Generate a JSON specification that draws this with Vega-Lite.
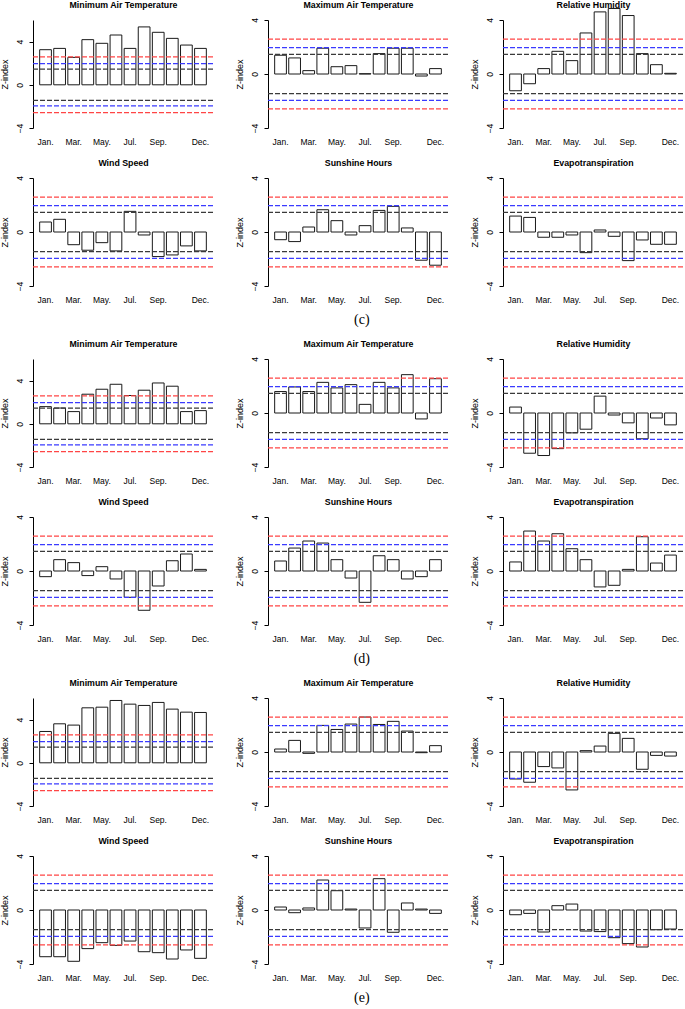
{
"$schema": "https://vega.github.io/schema/vega-lite/v6.json",
"padding": 0,
"background": "white",
"datasets": {
"thr": [{"t":1.45,"k":"l1"},{"t":-1.45,"k":"l1"},{"t":1.96,"k":"l2"},{"t":-1.96,"k":"l2"},{"t":2.58,"k":"l3"},{"t":-2.58,"k":"l3"}],
"z": [
{"g":"c","v":"MinT","m":"Jan.","z":3.25},{"g":"c","v":"MinT","m":"Feb.","z":3.37},{"g":"c","v":"MinT","m":"Mar.","z":2.54},{"g":"c","v":"MinT","m":"Apr.","z":4.18},{"g":"c","v":"MinT","m":"May.","z":3.84},{"g":"c","v":"MinT","m":"Jun.","z":4.61},{"g":"c","v":"MinT","m":"Jul.","z":3.37},{"g":"c","v":"MinT","m":"Aug.","z":5.36},{"g":"c","v":"MinT","m":"Sep.","z":4.86},{"g":"c","v":"MinT","m":"Oct.","z":4.30},{"g":"c","v":"MinT","m":"Nov.","z":3.68},{"g":"c","v":"MinT","m":"Dec.","z":3.37},
{"g":"c","v":"MaxT","m":"Jan.","z":1.39},{"g":"c","v":"MaxT","m":"Feb.","z":1.19},{"g":"c","v":"MaxT","m":"Mar.","z":0.25},{"g":"c","v":"MaxT","m":"Apr.","z":1.91},{"g":"c","v":"MaxT","m":"May.","z":0.54},{"g":"c","v":"MaxT","m":"Jun.","z":0.62},{"g":"c","v":"MaxT","m":"Jul.","z":0.02},{"g":"c","v":"MaxT","m":"Aug.","z":1.51},{"g":"c","v":"MaxT","m":"Sep.","z":1.91},{"g":"c","v":"MaxT","m":"Oct.","z":1.91},{"g":"c","v":"MaxT","m":"Nov.","z":-0.15},{"g":"c","v":"MaxT","m":"Dec.","z":0.40},
{"g":"c","v":"RH","m":"Jan.","z":-1.24},{"g":"c","v":"RH","m":"Feb.","z":-0.72},{"g":"c","v":"RH","m":"Mar.","z":0.40},{"g":"c","v":"RH","m":"Apr.","z":1.68},{"g":"c","v":"RH","m":"May.","z":0.99},{"g":"c","v":"RH","m":"Jun.","z":3.04},{"g":"c","v":"RH","m":"Jul.","z":4.60},{"g":"c","v":"RH","m":"Aug.","z":4.85},{"g":"c","v":"RH","m":"Sep.","z":4.33},{"g":"c","v":"RH","m":"Oct.","z":1.51},{"g":"c","v":"RH","m":"Nov.","z":0.69},{"g":"c","v":"RH","m":"Dec.","z":0.05},
{"g":"c","v":"WS","m":"Jan.","z":0.74},{"g":"c","v":"WS","m":"Feb.","z":0.94},{"g":"c","v":"WS","m":"Mar.","z":-0.94},{"g":"c","v":"WS","m":"Apr.","z":-1.35},{"g":"c","v":"WS","m":"May.","z":-0.79},{"g":"c","v":"WS","m":"Jun.","z":-1.40},{"g":"c","v":"WS","m":"Jul.","z":1.53},{"g":"c","v":"WS","m":"Aug.","z":-0.22},{"g":"c","v":"WS","m":"Sep.","z":-1.82},{"g":"c","v":"WS","m":"Oct.","z":-1.70},{"g":"c","v":"WS","m":"Nov.","z":-1.03},{"g":"c","v":"WS","m":"Dec.","z":-1.40},
{"g":"c","v":"SH","m":"Jan.","z":-0.57},{"g":"c","v":"SH","m":"Feb.","z":-0.71},{"g":"c","v":"SH","m":"Mar.","z":0.37},{"g":"c","v":"SH","m":"Apr.","z":1.65},{"g":"c","v":"SH","m":"May.","z":0.84},{"g":"c","v":"SH","m":"Jun.","z":-0.22},{"g":"c","v":"SH","m":"Jul.","z":0.47},{"g":"c","v":"SH","m":"Aug.","z":1.60},{"g":"c","v":"SH","m":"Sep.","z":1.90},{"g":"c","v":"SH","m":"Oct.","z":0.30},{"g":"c","v":"SH","m":"Nov.","z":-2.09},{"g":"c","v":"SH","m":"Dec.","z":-2.46},
{"g":"c","v":"ET","m":"Jan.","z":1.18},{"g":"c","v":"ET","m":"Feb.","z":1.08},{"g":"c","v":"ET","m":"Mar.","z":-0.39},{"g":"c","v":"ET","m":"Apr.","z":-0.39},{"g":"c","v":"ET","m":"May.","z":-0.22},{"g":"c","v":"ET","m":"Jun.","z":-1.53},{"g":"c","v":"ET","m":"Jul.","z":0.15},{"g":"c","v":"ET","m":"Aug.","z":-0.32},{"g":"c","v":"ET","m":"Sep.","z":-2.12},{"g":"c","v":"ET","m":"Oct.","z":-0.59},{"g":"c","v":"ET","m":"Nov.","z":-0.91},{"g":"c","v":"ET","m":"Dec.","z":-0.91},
{"g":"d","v":"MinT","m":"Jan.","z":1.59},{"g":"d","v":"MinT","m":"Feb.","z":1.46},{"g":"d","v":"MinT","m":"Mar.","z":1.13},{"g":"d","v":"MinT","m":"Apr.","z":2.74},{"g":"d","v":"MinT","m":"May.","z":3.20},{"g":"d","v":"MinT","m":"Jun.","z":3.66},{"g":"d","v":"MinT","m":"Jul.","z":2.62},{"g":"d","v":"MinT","m":"Aug.","z":3.11},{"g":"d","v":"MinT","m":"Sep.","z":3.78},{"g":"d","v":"MinT","m":"Oct.","z":3.48},{"g":"d","v":"MinT","m":"Nov.","z":1.13},{"g":"d","v":"MinT","m":"Dec.","z":1.22},
{"g":"d","v":"MaxT","m":"Jan.","z":1.59},{"g":"d","v":"MaxT","m":"Feb.","z":1.93},{"g":"d","v":"MaxT","m":"Mar.","z":1.59},{"g":"d","v":"MaxT","m":"Apr.","z":2.27},{"g":"d","v":"MaxT","m":"May.","z":1.86},{"g":"d","v":"MaxT","m":"Jun.","z":2.10},{"g":"d","v":"MaxT","m":"Jul.","z":0.64},{"g":"d","v":"MaxT","m":"Aug.","z":2.27},{"g":"d","v":"MaxT","m":"Sep.","z":1.86},{"g":"d","v":"MaxT","m":"Oct.","z":2.84},{"g":"d","v":"MaxT","m":"Nov.","z":-0.44},{"g":"d","v":"MaxT","m":"Dec.","z":2.54},
{"g":"d","v":"RH","m":"Jan.","z":0.44},{"g":"d","v":"RH","m":"Feb.","z":-2.98},{"g":"d","v":"RH","m":"Mar.","z":-3.15},{"g":"d","v":"RH","m":"Apr.","z":-2.64},{"g":"d","v":"RH","m":"May.","z":-1.47},{"g":"d","v":"RH","m":"Jun.","z":-1.20},{"g":"d","v":"RH","m":"Jul.","z":1.25},{"g":"d","v":"RH","m":"Aug.","z":-0.15},{"g":"d","v":"RH","m":"Sep.","z":-0.73},{"g":"d","v":"RH","m":"Oct.","z":-1.91},{"g":"d","v":"RH","m":"Nov.","z":-0.37},{"g":"d","v":"RH","m":"Dec.","z":-0.88},
{"g":"d","v":"WS","m":"Jan.","z":-0.42},{"g":"d","v":"WS","m":"Feb.","z":0.84},{"g":"d","v":"WS","m":"Mar.","z":0.62},{"g":"d","v":"WS","m":"Apr.","z":-0.34},{"g":"d","v":"WS","m":"May.","z":0.32},{"g":"d","v":"WS","m":"Jun.","z":-0.59},{"g":"d","v":"WS","m":"Jul.","z":-1.95},{"g":"d","v":"WS","m":"Aug.","z":-2.91},{"g":"d","v":"WS","m":"Sep.","z":-1.11},{"g":"d","v":"WS","m":"Oct.","z":0.76},{"g":"d","v":"WS","m":"Nov.","z":1.26},{"g":"d","v":"WS","m":"Dec.","z":0.12},
{"g":"d","v":"SH","m":"Jan.","z":0.74},{"g":"d","v":"SH","m":"Feb.","z":1.70},{"g":"d","v":"SH","m":"Mar.","z":2.22},{"g":"d","v":"SH","m":"Apr.","z":2.07},{"g":"d","v":"SH","m":"May.","z":0.84},{"g":"d","v":"SH","m":"Jun.","z":-0.52},{"g":"d","v":"SH","m":"Jul.","z":-2.32},{"g":"d","v":"SH","m":"Aug.","z":1.13},{"g":"d","v":"SH","m":"Sep.","z":0.84},{"g":"d","v":"SH","m":"Oct.","z":-0.59},{"g":"d","v":"SH","m":"Nov.","z":-0.42},{"g":"d","v":"SH","m":"Dec.","z":0.84},
{"g":"d","v":"ET","m":"Jan.","z":0.67},{"g":"d","v":"ET","m":"Feb.","z":2.96},{"g":"d","v":"ET","m":"Mar.","z":2.22},{"g":"d","v":"ET","m":"Apr.","z":2.76},{"g":"d","v":"ET","m":"May.","z":1.65},{"g":"d","v":"ET","m":"Jun.","z":0.84},{"g":"d","v":"ET","m":"Jul.","z":-1.18},{"g":"d","v":"ET","m":"Aug.","z":-1.06},{"g":"d","v":"ET","m":"Sep.","z":0.12},{"g":"d","v":"ET","m":"Oct.","z":2.54},{"g":"d","v":"ET","m":"Nov.","z":0.59},{"g":"d","v":"ET","m":"Dec.","z":1.18},
{"g":"e","v":"MinT","m":"Jan.","z":2.90},{"g":"e","v":"MinT","m":"Feb.","z":3.61},{"g":"e","v":"MinT","m":"Mar.","z":3.49},{"g":"e","v":"MinT","m":"Apr.","z":5.09},{"g":"e","v":"MinT","m":"May.","z":5.15},{"g":"e","v":"MinT","m":"Jun.","z":5.77},{"g":"e","v":"MinT","m":"Jul.","z":5.43},{"g":"e","v":"MinT","m":"Aug.","z":5.31},{"g":"e","v":"MinT","m":"Sep.","z":5.59},{"g":"e","v":"MinT","m":"Oct.","z":4.97},{"g":"e","v":"MinT","m":"Nov.","z":4.69},{"g":"e","v":"MinT","m":"Dec.","z":4.66},
{"g":"e","v":"MaxT","m":"Jan.","z":0.22},{"g":"e","v":"MaxT","m":"Feb.","z":0.86},{"g":"e","v":"MaxT","m":"Mar.","z":-0.10},{"g":"e","v":"MaxT","m":"Apr.","z":1.97},{"g":"e","v":"MaxT","m":"May.","z":1.67},{"g":"e","v":"MaxT","m":"Jun.","z":2.07},{"g":"e","v":"MaxT","m":"Jul.","z":2.59},{"g":"e","v":"MaxT","m":"Aug.","z":2.04},{"g":"e","v":"MaxT","m":"Sep.","z":2.27},{"g":"e","v":"MaxT","m":"Oct.","z":1.55},{"g":"e","v":"MaxT","m":"Nov.","z":-0.05},{"g":"e","v":"MaxT","m":"Dec.","z":0.47},
{"g":"e","v":"RH","m":"Jan.","z":-2.00},{"g":"e","v":"RH","m":"Feb.","z":-2.24},{"g":"e","v":"RH","m":"Mar.","z":-1.08},{"g":"e","v":"RH","m":"Apr.","z":-1.18},{"g":"e","v":"RH","m":"May.","z":-2.81},{"g":"e","v":"RH","m":"Jun.","z":0.10},{"g":"e","v":"RH","m":"Jul.","z":0.44},{"g":"e","v":"RH","m":"Aug.","z":1.38},{"g":"e","v":"RH","m":"Sep.","z":1.01},{"g":"e","v":"RH","m":"Oct.","z":-1.28},{"g":"e","v":"RH","m":"Nov.","z":-0.25},{"g":"e","v":"RH","m":"Dec.","z":-0.30},
{"g":"e","v":"WS","m":"Jan.","z":-3.46},{"g":"e","v":"WS","m":"Feb.","z":-3.46},{"g":"e","v":"WS","m":"Mar.","z":-3.80},{"g":"e","v":"WS","m":"Apr.","z":-2.86},{"g":"e","v":"WS","m":"May.","z":-2.42},{"g":"e","v":"WS","m":"Jun.","z":-2.62},{"g":"e","v":"WS","m":"Jul.","z":-2.30},{"g":"e","v":"WS","m":"Aug.","z":-3.09},{"g":"e","v":"WS","m":"Sep.","z":-3.16},{"g":"e","v":"WS","m":"Oct.","z":-3.63},{"g":"e","v":"WS","m":"Nov.","z":-2.96},{"g":"e","v":"WS","m":"Dec.","z":-3.58},
{"g":"e","v":"SH","m":"Jan.","z":0.22},{"g":"e","v":"SH","m":"Feb.","z":-0.20},{"g":"e","v":"SH","m":"Mar.","z":0.15},{"g":"e","v":"SH","m":"Apr.","z":2.22},{"g":"e","v":"SH","m":"May.","z":1.43},{"g":"e","v":"SH","m":"Jun.","z":0.07},{"g":"e","v":"SH","m":"Jul.","z":-1.33},{"g":"e","v":"SH","m":"Aug.","z":2.32},{"g":"e","v":"SH","m":"Sep.","z":-1.65},{"g":"e","v":"SH","m":"Oct.","z":0.52},{"g":"e","v":"SH","m":"Nov.","z":0.07},{"g":"e","v":"SH","m":"Dec.","z":-0.25},
{"g":"e","v":"ET","m":"Jan.","z":-0.35},{"g":"e","v":"ET","m":"Feb.","z":-0.25},{"g":"e","v":"ET","m":"Mar.","z":-1.63},{"g":"e","v":"ET","m":"Apr.","z":0.32},{"g":"e","v":"ET","m":"May.","z":0.44},{"g":"e","v":"ET","m":"Jun.","z":-1.56},{"g":"e","v":"ET","m":"Jul.","z":-1.60},{"g":"e","v":"ET","m":"Aug.","z":-2.05},{"g":"e","v":"ET","m":"Sep.","z":-2.49},{"g":"e","v":"ET","m":"Oct.","z":-2.74},{"g":"e","v":"ET","m":"Nov.","z":-1.46},{"g":"e","v":"ET","m":"Dec.","z":-1.41}
]
},
"spacing": 12,
"resolve": {"scale": {"x": "independent", "y": "independent"}},
"vconcat": [
{"hconcat": [
{"width":180,"height":108,"resolve":{"axis":{"x":"independent"}},"layer":[
{"data":{"name":"z"},"transform":[{"filter":"datum.g=='c'&&datum.v=='MinT'"}],"mark":{"type":"bar","fill":"white","stroke":"#1a1a1a","strokeWidth":1},"encoding":{"x":{"field":"m","type":"ordinal","title":null,"scale":{"domain":["Jan.","Feb.","Mar.","Apr.","May.","Jun.","Jul.","Aug.","Sep.","Oct.","Nov.","Dec."],"paddingInner":0.167,"paddingOuter":0.473},"axis":{"labelExpr":"indexof(['Jan.','Mar.','May.','Jul.','Sep.','Dec.'], datum.value) >= 0 ? datum.value : ''"}},"y":{"field":"z","type":"quantitative","title":"Z-index","stack":null,"scale":{"domain":[-4,6],"nice":false,"zero":false},"axis":{"values":[-4,-2,0,2,4,6]}}}},
{"data":{"name":"thr"},"mark":{"type":"rule","strokeDash":[5,2],"strokeWidth":1.2},"encoding":{"y":{"field":"t","type":"quantitative","title":"Z-index"},"color":{"field":"k","type":"nominal","scale":{"domain":["l1","l2","l3"],"range":["#3a3a3a","#3b3bff","#ff4545"]},"legend":null}}},
{"data":{"name":"z"},"transform":[{"filter":"datum.g=='c'&&datum.v=='MinT'"}],"mark":{"type":"tick","opacity":0},"encoding":{"x":{"field":"m","type":"ordinal","axis":{"orient":"top","title":"Minimum Air Temperature","labels":false}}}}]},
{"width":180,"height":108,"resolve":{"axis":{"x":"independent"}},"layer":[
{"data":{"name":"z"},"transform":[{"filter":"datum.g=='c'&&datum.v=='MaxT'"}],"mark":{"type":"bar","fill":"white","stroke":"#1a1a1a","strokeWidth":1},"encoding":{"x":{"field":"m","type":"ordinal","title":null,"scale":{"domain":["Jan.","Feb.","Mar.","Apr.","May.","Jun.","Jul.","Aug.","Sep.","Oct.","Nov.","Dec."],"paddingInner":0.167,"paddingOuter":0.473},"axis":{"labelExpr":"indexof(['Jan.','Mar.','May.','Jul.','Sep.','Dec.'], datum.value) >= 0 ? datum.value : ''"}},"y":{"field":"z","type":"quantitative","title":"Z-index","stack":null,"scale":{"domain":[-4,4],"nice":false,"zero":false},"axis":{"values":[-4,-2,0,2,4]}}}},
{"data":{"name":"thr"},"mark":{"type":"rule","strokeDash":[5,2],"strokeWidth":1.2},"encoding":{"y":{"field":"t","type":"quantitative","title":"Z-index"},"color":{"field":"k","type":"nominal","scale":{"domain":["l1","l2","l3"],"range":["#3a3a3a","#3b3bff","#ff4545"]},"legend":null}}},
{"data":{"name":"z"},"transform":[{"filter":"datum.g=='c'&&datum.v=='MaxT'"}],"mark":{"type":"tick","opacity":0},"encoding":{"x":{"field":"m","type":"ordinal","axis":{"orient":"top","title":"Maximum Air Temperature","labels":false}}}}]},
{"width":180,"height":108,"resolve":{"axis":{"x":"independent"}},"layer":[
{"data":{"name":"z"},"transform":[{"filter":"datum.g=='c'&&datum.v=='RH'"}],"mark":{"type":"bar","fill":"white","stroke":"#1a1a1a","strokeWidth":1},"encoding":{"x":{"field":"m","type":"ordinal","title":null,"scale":{"domain":["Jan.","Feb.","Mar.","Apr.","May.","Jun.","Jul.","Aug.","Sep.","Oct.","Nov.","Dec."],"paddingInner":0.167,"paddingOuter":0.473},"axis":{"labelExpr":"indexof(['Jan.','Mar.','May.','Jul.','Sep.','Dec.'], datum.value) >= 0 ? datum.value : ''"}},"y":{"field":"z","type":"quantitative","title":"Z-index","stack":null,"scale":{"domain":[-4,4],"nice":false,"zero":false},"axis":{"values":[-4,-2,0,2,4]}}}},
{"data":{"name":"thr"},"mark":{"type":"rule","strokeDash":[5,2],"strokeWidth":1.2},"encoding":{"y":{"field":"t","type":"quantitative","title":"Z-index"},"color":{"field":"k","type":"nominal","scale":{"domain":["l1","l2","l3"],"range":["#3a3a3a","#3b3bff","#ff4545"]},"legend":null}}},
{"data":{"name":"z"},"transform":[{"filter":"datum.g=='c'&&datum.v=='RH'"}],"mark":{"type":"tick","opacity":0},"encoding":{"x":{"field":"m","type":"ordinal","axis":{"orient":"top","title":"Relative Humidity","labels":false}}}}]}
],"spacing":55,"bounds":"flush","resolve":{"scale":{"x":"independent","y":"independent"}}},
{"hconcat": [
{"width":180,"height":108,"resolve":{"axis":{"x":"independent"}},"layer":[
{"data":{"name":"z"},"transform":[{"filter":"datum.g=='c'&&datum.v=='WS'"}],"mark":{"type":"bar","fill":"white","stroke":"#1a1a1a","strokeWidth":1},"encoding":{"x":{"field":"m","type":"ordinal","title":null,"scale":{"domain":["Jan.","Feb.","Mar.","Apr.","May.","Jun.","Jul.","Aug.","Sep.","Oct.","Nov.","Dec."],"paddingInner":0.167,"paddingOuter":0.473},"axis":{"labelExpr":"indexof(['Jan.','Mar.','May.','Jul.','Sep.','Dec.'], datum.value) >= 0 ? datum.value : ''"}},"y":{"field":"z","type":"quantitative","title":"Z-index","stack":null,"scale":{"domain":[-4,4],"nice":false,"zero":false},"axis":{"values":[-4,-2,0,2,4]}}}},
{"data":{"name":"thr"},"mark":{"type":"rule","strokeDash":[5,2],"strokeWidth":1.2},"encoding":{"y":{"field":"t","type":"quantitative","title":"Z-index"},"color":{"field":"k","type":"nominal","scale":{"domain":["l1","l2","l3"],"range":["#3a3a3a","#3b3bff","#ff4545"]},"legend":null}}},
{"data":{"name":"z"},"transform":[{"filter":"datum.g=='c'&&datum.v=='WS'"}],"mark":{"type":"tick","opacity":0},"encoding":{"x":{"field":"m","type":"ordinal","axis":{"orient":"top","title":"Wind Speed","labels":false}}}}]},
{"width":180,"height":108,"resolve":{"axis":{"x":"independent"}},"layer":[
{"data":{"name":"z"},"transform":[{"filter":"datum.g=='c'&&datum.v=='SH'"}],"mark":{"type":"bar","fill":"white","stroke":"#1a1a1a","strokeWidth":1},"encoding":{"x":{"field":"m","type":"ordinal","title":null,"scale":{"domain":["Jan.","Feb.","Mar.","Apr.","May.","Jun.","Jul.","Aug.","Sep.","Oct.","Nov.","Dec."],"paddingInner":0.167,"paddingOuter":0.473},"axis":{"labelExpr":"indexof(['Jan.','Mar.','May.','Jul.','Sep.','Dec.'], datum.value) >= 0 ? datum.value : ''"}},"y":{"field":"z","type":"quantitative","title":"Z-index","stack":null,"scale":{"domain":[-4,4],"nice":false,"zero":false},"axis":{"values":[-4,-2,0,2,4]}}}},
{"data":{"name":"thr"},"mark":{"type":"rule","strokeDash":[5,2],"strokeWidth":1.2},"encoding":{"y":{"field":"t","type":"quantitative","title":"Z-index"},"color":{"field":"k","type":"nominal","scale":{"domain":["l1","l2","l3"],"range":["#3a3a3a","#3b3bff","#ff4545"]},"legend":null}}},
{"data":{"name":"z"},"transform":[{"filter":"datum.g=='c'&&datum.v=='SH'"}],"mark":{"type":"tick","opacity":0},"encoding":{"x":{"field":"m","type":"ordinal","axis":{"orient":"top","title":"Sunshine Hours","labels":false}}}}]},
{"width":180,"height":108,"resolve":{"axis":{"x":"independent"}},"layer":[
{"data":{"name":"z"},"transform":[{"filter":"datum.g=='c'&&datum.v=='ET'"}],"mark":{"type":"bar","fill":"white","stroke":"#1a1a1a","strokeWidth":1},"encoding":{"x":{"field":"m","type":"ordinal","title":null,"scale":{"domain":["Jan.","Feb.","Mar.","Apr.","May.","Jun.","Jul.","Aug.","Sep.","Oct.","Nov.","Dec."],"paddingInner":0.167,"paddingOuter":0.473},"axis":{"labelExpr":"indexof(['Jan.','Mar.','May.','Jul.','Sep.','Dec.'], datum.value) >= 0 ? datum.value : ''"}},"y":{"field":"z","type":"quantitative","title":"Z-index","stack":null,"scale":{"domain":[-4,4],"nice":false,"zero":false},"axis":{"values":[-4,-2,0,2,4]}}}},
{"data":{"name":"thr"},"mark":{"type":"rule","strokeDash":[5,2],"strokeWidth":1.2},"encoding":{"y":{"field":"t","type":"quantitative","title":"Z-index"},"color":{"field":"k","type":"nominal","scale":{"domain":["l1","l2","l3"],"range":["#3a3a3a","#3b3bff","#ff4545"]},"legend":null}}},
{"data":{"name":"z"},"transform":[{"filter":"datum.g=='c'&&datum.v=='ET'"}],"mark":{"type":"tick","opacity":0},"encoding":{"x":{"field":"m","type":"ordinal","axis":{"orient":"top","title":"Evapotranspiration","labels":false}}}}]}
],"spacing":55,"bounds":"flush","resolve":{"scale":{"x":"independent","y":"independent"}},
"title":{"text":"(c)","orient":"bottom","font":"Liberation Serif","fontSize":14,"fontWeight":"normal","color":"black","frame":"bounds","baseline":"top","offset":9,"dx":20,"anchor":"middle"}},
{"hconcat": [
{"width":180,"height":108,"resolve":{"axis":{"x":"independent"}},"layer":[
{"data":{"name":"z"},"transform":[{"filter":"datum.g=='d'&&datum.v=='MinT'"}],"mark":{"type":"bar","fill":"white","stroke":"#1a1a1a","strokeWidth":1},"encoding":{"x":{"field":"m","type":"ordinal","title":null,"scale":{"domain":["Jan.","Feb.","Mar.","Apr.","May.","Jun.","Jul.","Aug.","Sep.","Oct.","Nov.","Dec."],"paddingInner":0.167,"paddingOuter":0.473},"axis":{"labelExpr":"indexof(['Jan.','Mar.','May.','Jul.','Sep.','Dec.'], datum.value) >= 0 ? datum.value : ''"}},"y":{"field":"z","type":"quantitative","title":"Z-index","stack":null,"scale":{"domain":[-4,6],"nice":false,"zero":false},"axis":{"values":[-4,-2,0,2,4,6]}}}},
{"data":{"name":"thr"},"mark":{"type":"rule","strokeDash":[5,2],"strokeWidth":1.2},"encoding":{"y":{"field":"t","type":"quantitative","title":"Z-index"},"color":{"field":"k","type":"nominal","scale":{"domain":["l1","l2","l3"],"range":["#3a3a3a","#3b3bff","#ff4545"]},"legend":null}}},
{"data":{"name":"z"},"transform":[{"filter":"datum.g=='d'&&datum.v=='MinT'"}],"mark":{"type":"tick","opacity":0},"encoding":{"x":{"field":"m","type":"ordinal","axis":{"orient":"top","title":"Minimum Air Temperature","labels":false}}}}]},
{"width":180,"height":108,"resolve":{"axis":{"x":"independent"}},"layer":[
{"data":{"name":"z"},"transform":[{"filter":"datum.g=='d'&&datum.v=='MaxT'"}],"mark":{"type":"bar","fill":"white","stroke":"#1a1a1a","strokeWidth":1},"encoding":{"x":{"field":"m","type":"ordinal","title":null,"scale":{"domain":["Jan.","Feb.","Mar.","Apr.","May.","Jun.","Jul.","Aug.","Sep.","Oct.","Nov.","Dec."],"paddingInner":0.167,"paddingOuter":0.473},"axis":{"labelExpr":"indexof(['Jan.','Mar.','May.','Jul.','Sep.','Dec.'], datum.value) >= 0 ? datum.value : ''"}},"y":{"field":"z","type":"quantitative","title":"Z-index","stack":null,"scale":{"domain":[-4,4],"nice":false,"zero":false},"axis":{"values":[-4,-2,0,2,4]}}}},
{"data":{"name":"thr"},"mark":{"type":"rule","strokeDash":[5,2],"strokeWidth":1.2},"encoding":{"y":{"field":"t","type":"quantitative","title":"Z-index"},"color":{"field":"k","type":"nominal","scale":{"domain":["l1","l2","l3"],"range":["#3a3a3a","#3b3bff","#ff4545"]},"legend":null}}},
{"data":{"name":"z"},"transform":[{"filter":"datum.g=='d'&&datum.v=='MaxT'"}],"mark":{"type":"tick","opacity":0},"encoding":{"x":{"field":"m","type":"ordinal","axis":{"orient":"top","title":"Maximum Air Temperature","labels":false}}}}]},
{"width":180,"height":108,"resolve":{"axis":{"x":"independent"}},"layer":[
{"data":{"name":"z"},"transform":[{"filter":"datum.g=='d'&&datum.v=='RH'"}],"mark":{"type":"bar","fill":"white","stroke":"#1a1a1a","strokeWidth":1},"encoding":{"x":{"field":"m","type":"ordinal","title":null,"scale":{"domain":["Jan.","Feb.","Mar.","Apr.","May.","Jun.","Jul.","Aug.","Sep.","Oct.","Nov.","Dec."],"paddingInner":0.167,"paddingOuter":0.473},"axis":{"labelExpr":"indexof(['Jan.','Mar.','May.','Jul.','Sep.','Dec.'], datum.value) >= 0 ? datum.value : ''"}},"y":{"field":"z","type":"quantitative","title":"Z-index","stack":null,"scale":{"domain":[-4,4],"nice":false,"zero":false},"axis":{"values":[-4,-2,0,2,4]}}}},
{"data":{"name":"thr"},"mark":{"type":"rule","strokeDash":[5,2],"strokeWidth":1.2},"encoding":{"y":{"field":"t","type":"quantitative","title":"Z-index"},"color":{"field":"k","type":"nominal","scale":{"domain":["l1","l2","l3"],"range":["#3a3a3a","#3b3bff","#ff4545"]},"legend":null}}},
{"data":{"name":"z"},"transform":[{"filter":"datum.g=='d'&&datum.v=='RH'"}],"mark":{"type":"tick","opacity":0},"encoding":{"x":{"field":"m","type":"ordinal","axis":{"orient":"top","title":"Relative Humidity","labels":false}}}}]}
],"spacing":55,"bounds":"flush","resolve":{"scale":{"x":"independent","y":"independent"}}},
{"hconcat": [
{"width":180,"height":108,"resolve":{"axis":{"x":"independent"}},"layer":[
{"data":{"name":"z"},"transform":[{"filter":"datum.g=='d'&&datum.v=='WS'"}],"mark":{"type":"bar","fill":"white","stroke":"#1a1a1a","strokeWidth":1},"encoding":{"x":{"field":"m","type":"ordinal","title":null,"scale":{"domain":["Jan.","Feb.","Mar.","Apr.","May.","Jun.","Jul.","Aug.","Sep.","Oct.","Nov.","Dec."],"paddingInner":0.167,"paddingOuter":0.473},"axis":{"labelExpr":"indexof(['Jan.','Mar.','May.','Jul.','Sep.','Dec.'], datum.value) >= 0 ? datum.value : ''"}},"y":{"field":"z","type":"quantitative","title":"Z-index","stack":null,"scale":{"domain":[-4,4],"nice":false,"zero":false},"axis":{"values":[-4,-2,0,2,4]}}}},
{"data":{"name":"thr"},"mark":{"type":"rule","strokeDash":[5,2],"strokeWidth":1.2},"encoding":{"y":{"field":"t","type":"quantitative","title":"Z-index"},"color":{"field":"k","type":"nominal","scale":{"domain":["l1","l2","l3"],"range":["#3a3a3a","#3b3bff","#ff4545"]},"legend":null}}},
{"data":{"name":"z"},"transform":[{"filter":"datum.g=='d'&&datum.v=='WS'"}],"mark":{"type":"tick","opacity":0},"encoding":{"x":{"field":"m","type":"ordinal","axis":{"orient":"top","title":"Wind Speed","labels":false}}}}]},
{"width":180,"height":108,"resolve":{"axis":{"x":"independent"}},"layer":[
{"data":{"name":"z"},"transform":[{"filter":"datum.g=='d'&&datum.v=='SH'"}],"mark":{"type":"bar","fill":"white","stroke":"#1a1a1a","strokeWidth":1},"encoding":{"x":{"field":"m","type":"ordinal","title":null,"scale":{"domain":["Jan.","Feb.","Mar.","Apr.","May.","Jun.","Jul.","Aug.","Sep.","Oct.","Nov.","Dec."],"paddingInner":0.167,"paddingOuter":0.473},"axis":{"labelExpr":"indexof(['Jan.','Mar.','May.','Jul.','Sep.','Dec.'], datum.value) >= 0 ? datum.value : ''"}},"y":{"field":"z","type":"quantitative","title":"Z-index","stack":null,"scale":{"domain":[-4,4],"nice":false,"zero":false},"axis":{"values":[-4,-2,0,2,4]}}}},
{"data":{"name":"thr"},"mark":{"type":"rule","strokeDash":[5,2],"strokeWidth":1.2},"encoding":{"y":{"field":"t","type":"quantitative","title":"Z-index"},"color":{"field":"k","type":"nominal","scale":{"domain":["l1","l2","l3"],"range":["#3a3a3a","#3b3bff","#ff4545"]},"legend":null}}},
{"data":{"name":"z"},"transform":[{"filter":"datum.g=='d'&&datum.v=='SH'"}],"mark":{"type":"tick","opacity":0},"encoding":{"x":{"field":"m","type":"ordinal","axis":{"orient":"top","title":"Sunshine Hours","labels":false}}}}]},
{"width":180,"height":108,"resolve":{"axis":{"x":"independent"}},"layer":[
{"data":{"name":"z"},"transform":[{"filter":"datum.g=='d'&&datum.v=='ET'"}],"mark":{"type":"bar","fill":"white","stroke":"#1a1a1a","strokeWidth":1},"encoding":{"x":{"field":"m","type":"ordinal","title":null,"scale":{"domain":["Jan.","Feb.","Mar.","Apr.","May.","Jun.","Jul.","Aug.","Sep.","Oct.","Nov.","Dec."],"paddingInner":0.167,"paddingOuter":0.473},"axis":{"labelExpr":"indexof(['Jan.','Mar.','May.','Jul.','Sep.','Dec.'], datum.value) >= 0 ? datum.value : ''"}},"y":{"field":"z","type":"quantitative","title":"Z-index","stack":null,"scale":{"domain":[-4,4],"nice":false,"zero":false},"axis":{"values":[-4,-2,0,2,4]}}}},
{"data":{"name":"thr"},"mark":{"type":"rule","strokeDash":[5,2],"strokeWidth":1.2},"encoding":{"y":{"field":"t","type":"quantitative","title":"Z-index"},"color":{"field":"k","type":"nominal","scale":{"domain":["l1","l2","l3"],"range":["#3a3a3a","#3b3bff","#ff4545"]},"legend":null}}},
{"data":{"name":"z"},"transform":[{"filter":"datum.g=='d'&&datum.v=='ET'"}],"mark":{"type":"tick","opacity":0},"encoding":{"x":{"field":"m","type":"ordinal","axis":{"orient":"top","title":"Evapotranspiration","labels":false}}}}]}
],"spacing":55,"bounds":"flush","resolve":{"scale":{"x":"independent","y":"independent"}},
"title":{"text":"(d)","orient":"bottom","font":"Liberation Serif","fontSize":14,"fontWeight":"normal","color":"black","frame":"bounds","baseline":"top","offset":9,"dx":20,"anchor":"middle"}},
{"hconcat": [
{"width":180,"height":108,"resolve":{"axis":{"x":"independent"}},"layer":[
{"data":{"name":"z"},"transform":[{"filter":"datum.g=='e'&&datum.v=='MinT'"}],"mark":{"type":"bar","fill":"white","stroke":"#1a1a1a","strokeWidth":1},"encoding":{"x":{"field":"m","type":"ordinal","title":null,"scale":{"domain":["Jan.","Feb.","Mar.","Apr.","May.","Jun.","Jul.","Aug.","Sep.","Oct.","Nov.","Dec."],"paddingInner":0.167,"paddingOuter":0.473},"axis":{"labelExpr":"indexof(['Jan.','Mar.','May.','Jul.','Sep.','Dec.'], datum.value) >= 0 ? datum.value : ''"}},"y":{"field":"z","type":"quantitative","title":"Z-index","stack":null,"scale":{"domain":[-4,6],"nice":false,"zero":false},"axis":{"values":[-4,-2,0,2,4,6]}}}},
{"data":{"name":"thr"},"mark":{"type":"rule","strokeDash":[5,2],"strokeWidth":1.2},"encoding":{"y":{"field":"t","type":"quantitative","title":"Z-index"},"color":{"field":"k","type":"nominal","scale":{"domain":["l1","l2","l3"],"range":["#3a3a3a","#3b3bff","#ff4545"]},"legend":null}}},
{"data":{"name":"z"},"transform":[{"filter":"datum.g=='e'&&datum.v=='MinT'"}],"mark":{"type":"tick","opacity":0},"encoding":{"x":{"field":"m","type":"ordinal","axis":{"orient":"top","title":"Minimum Air Temperature","labels":false}}}}]},
{"width":180,"height":108,"resolve":{"axis":{"x":"independent"}},"layer":[
{"data":{"name":"z"},"transform":[{"filter":"datum.g=='e'&&datum.v=='MaxT'"}],"mark":{"type":"bar","fill":"white","stroke":"#1a1a1a","strokeWidth":1},"encoding":{"x":{"field":"m","type":"ordinal","title":null,"scale":{"domain":["Jan.","Feb.","Mar.","Apr.","May.","Jun.","Jul.","Aug.","Sep.","Oct.","Nov.","Dec."],"paddingInner":0.167,"paddingOuter":0.473},"axis":{"labelExpr":"indexof(['Jan.','Mar.','May.','Jul.','Sep.','Dec.'], datum.value) >= 0 ? datum.value : ''"}},"y":{"field":"z","type":"quantitative","title":"Z-index","stack":null,"scale":{"domain":[-4,4],"nice":false,"zero":false},"axis":{"values":[-4,-2,0,2,4]}}}},
{"data":{"name":"thr"},"mark":{"type":"rule","strokeDash":[5,2],"strokeWidth":1.2},"encoding":{"y":{"field":"t","type":"quantitative","title":"Z-index"},"color":{"field":"k","type":"nominal","scale":{"domain":["l1","l2","l3"],"range":["#3a3a3a","#3b3bff","#ff4545"]},"legend":null}}},
{"data":{"name":"z"},"transform":[{"filter":"datum.g=='e'&&datum.v=='MaxT'"}],"mark":{"type":"tick","opacity":0},"encoding":{"x":{"field":"m","type":"ordinal","axis":{"orient":"top","title":"Maximum Air Temperature","labels":false}}}}]},
{"width":180,"height":108,"resolve":{"axis":{"x":"independent"}},"layer":[
{"data":{"name":"z"},"transform":[{"filter":"datum.g=='e'&&datum.v=='RH'"}],"mark":{"type":"bar","fill":"white","stroke":"#1a1a1a","strokeWidth":1},"encoding":{"x":{"field":"m","type":"ordinal","title":null,"scale":{"domain":["Jan.","Feb.","Mar.","Apr.","May.","Jun.","Jul.","Aug.","Sep.","Oct.","Nov.","Dec."],"paddingInner":0.167,"paddingOuter":0.473},"axis":{"labelExpr":"indexof(['Jan.','Mar.','May.','Jul.','Sep.','Dec.'], datum.value) >= 0 ? datum.value : ''"}},"y":{"field":"z","type":"quantitative","title":"Z-index","stack":null,"scale":{"domain":[-4,4],"nice":false,"zero":false},"axis":{"values":[-4,-2,0,2,4]}}}},
{"data":{"name":"thr"},"mark":{"type":"rule","strokeDash":[5,2],"strokeWidth":1.2},"encoding":{"y":{"field":"t","type":"quantitative","title":"Z-index"},"color":{"field":"k","type":"nominal","scale":{"domain":["l1","l2","l3"],"range":["#3a3a3a","#3b3bff","#ff4545"]},"legend":null}}},
{"data":{"name":"z"},"transform":[{"filter":"datum.g=='e'&&datum.v=='RH'"}],"mark":{"type":"tick","opacity":0},"encoding":{"x":{"field":"m","type":"ordinal","axis":{"orient":"top","title":"Relative Humidity","labels":false}}}}]}
],"spacing":55,"bounds":"flush","resolve":{"scale":{"x":"independent","y":"independent"}}},
{"hconcat": [
{"width":180,"height":108,"resolve":{"axis":{"x":"independent"}},"layer":[
{"data":{"name":"z"},"transform":[{"filter":"datum.g=='e'&&datum.v=='WS'"}],"mark":{"type":"bar","fill":"white","stroke":"#1a1a1a","strokeWidth":1},"encoding":{"x":{"field":"m","type":"ordinal","title":null,"scale":{"domain":["Jan.","Feb.","Mar.","Apr.","May.","Jun.","Jul.","Aug.","Sep.","Oct.","Nov.","Dec."],"paddingInner":0.167,"paddingOuter":0.473},"axis":{"labelExpr":"indexof(['Jan.','Mar.','May.','Jul.','Sep.','Dec.'], datum.value) >= 0 ? datum.value : ''"}},"y":{"field":"z","type":"quantitative","title":"Z-index","stack":null,"scale":{"domain":[-4,4],"nice":false,"zero":false},"axis":{"values":[-4,-2,0,2,4]}}}},
{"data":{"name":"thr"},"mark":{"type":"rule","strokeDash":[5,2],"strokeWidth":1.2},"encoding":{"y":{"field":"t","type":"quantitative","title":"Z-index"},"color":{"field":"k","type":"nominal","scale":{"domain":["l1","l2","l3"],"range":["#3a3a3a","#3b3bff","#ff4545"]},"legend":null}}},
{"data":{"name":"z"},"transform":[{"filter":"datum.g=='e'&&datum.v=='WS'"}],"mark":{"type":"tick","opacity":0},"encoding":{"x":{"field":"m","type":"ordinal","axis":{"orient":"top","title":"Wind Speed","labels":false}}}}]},
{"width":180,"height":108,"resolve":{"axis":{"x":"independent"}},"layer":[
{"data":{"name":"z"},"transform":[{"filter":"datum.g=='e'&&datum.v=='SH'"}],"mark":{"type":"bar","fill":"white","stroke":"#1a1a1a","strokeWidth":1},"encoding":{"x":{"field":"m","type":"ordinal","title":null,"scale":{"domain":["Jan.","Feb.","Mar.","Apr.","May.","Jun.","Jul.","Aug.","Sep.","Oct.","Nov.","Dec."],"paddingInner":0.167,"paddingOuter":0.473},"axis":{"labelExpr":"indexof(['Jan.','Mar.','May.','Jul.','Sep.','Dec.'], datum.value) >= 0 ? datum.value : ''"}},"y":{"field":"z","type":"quantitative","title":"Z-index","stack":null,"scale":{"domain":[-4,4],"nice":false,"zero":false},"axis":{"values":[-4,-2,0,2,4]}}}},
{"data":{"name":"thr"},"mark":{"type":"rule","strokeDash":[5,2],"strokeWidth":1.2},"encoding":{"y":{"field":"t","type":"quantitative","title":"Z-index"},"color":{"field":"k","type":"nominal","scale":{"domain":["l1","l2","l3"],"range":["#3a3a3a","#3b3bff","#ff4545"]},"legend":null}}},
{"data":{"name":"z"},"transform":[{"filter":"datum.g=='e'&&datum.v=='SH'"}],"mark":{"type":"tick","opacity":0},"encoding":{"x":{"field":"m","type":"ordinal","axis":{"orient":"top","title":"Sunshine Hours","labels":false}}}}]},
{"width":180,"height":108,"resolve":{"axis":{"x":"independent"}},"layer":[
{"data":{"name":"z"},"transform":[{"filter":"datum.g=='e'&&datum.v=='ET'"}],"mark":{"type":"bar","fill":"white","stroke":"#1a1a1a","strokeWidth":1},"encoding":{"x":{"field":"m","type":"ordinal","title":null,"scale":{"domain":["Jan.","Feb.","Mar.","Apr.","May.","Jun.","Jul.","Aug.","Sep.","Oct.","Nov.","Dec."],"paddingInner":0.167,"paddingOuter":0.473},"axis":{"labelExpr":"indexof(['Jan.','Mar.','May.','Jul.','Sep.','Dec.'], datum.value) >= 0 ? datum.value : ''"}},"y":{"field":"z","type":"quantitative","title":"Z-index","stack":null,"scale":{"domain":[-4,4],"nice":false,"zero":false},"axis":{"values":[-4,-2,0,2,4]}}}},
{"data":{"name":"thr"},"mark":{"type":"rule","strokeDash":[5,2],"strokeWidth":1.2},"encoding":{"y":{"field":"t","type":"quantitative","title":"Z-index"},"color":{"field":"k","type":"nominal","scale":{"domain":["l1","l2","l3"],"range":["#3a3a3a","#3b3bff","#ff4545"]},"legend":null}}},
{"data":{"name":"z"},"transform":[{"filter":"datum.g=='e'&&datum.v=='ET'"}],"mark":{"type":"tick","opacity":0},"encoding":{"x":{"field":"m","type":"ordinal","axis":{"orient":"top","title":"Evapotranspiration","labels":false}}}}]}
],"spacing":55,"bounds":"flush","resolve":{"scale":{"x":"independent","y":"independent"}},
"title":{"text":"(e)","orient":"bottom","font":"Liberation Serif","fontSize":14,"fontWeight":"normal","color":"black","frame":"bounds","baseline":"top","offset":9,"dx":20,"anchor":"middle"}}
],
"config": {
"view": {"stroke": null},
"axis": {"grid": false, "labelFont": "Liberation Sans", "titleFont": "Liberation Sans", "labelColor": "black", "titleColor": "black", "domainColor": "black", "tickColor": "black", "labelFontSize": 8.5, "titleFontSize": 9, "titleFontWeight": "normal", "labelFlush": false, "labelOverlap": false},
"axisX": {"domain": false, "ticks": false, "tickSize": 0, "labelPadding": 9.5, "labelAngle": 0},
"axisTop": {"titleFontWeight": "bold", "titleFontSize": 8.8, "titleBaseline": "alphabetic", "titlePadding": 12.5, "labelPadding": 0},
"axisY": {"tickSize": 4, "labelAngle": 270, "labelAlign": "center", "labelBaseline": "alphabetic", "labelPadding": 7, "titlePadding": 6}
}
}
